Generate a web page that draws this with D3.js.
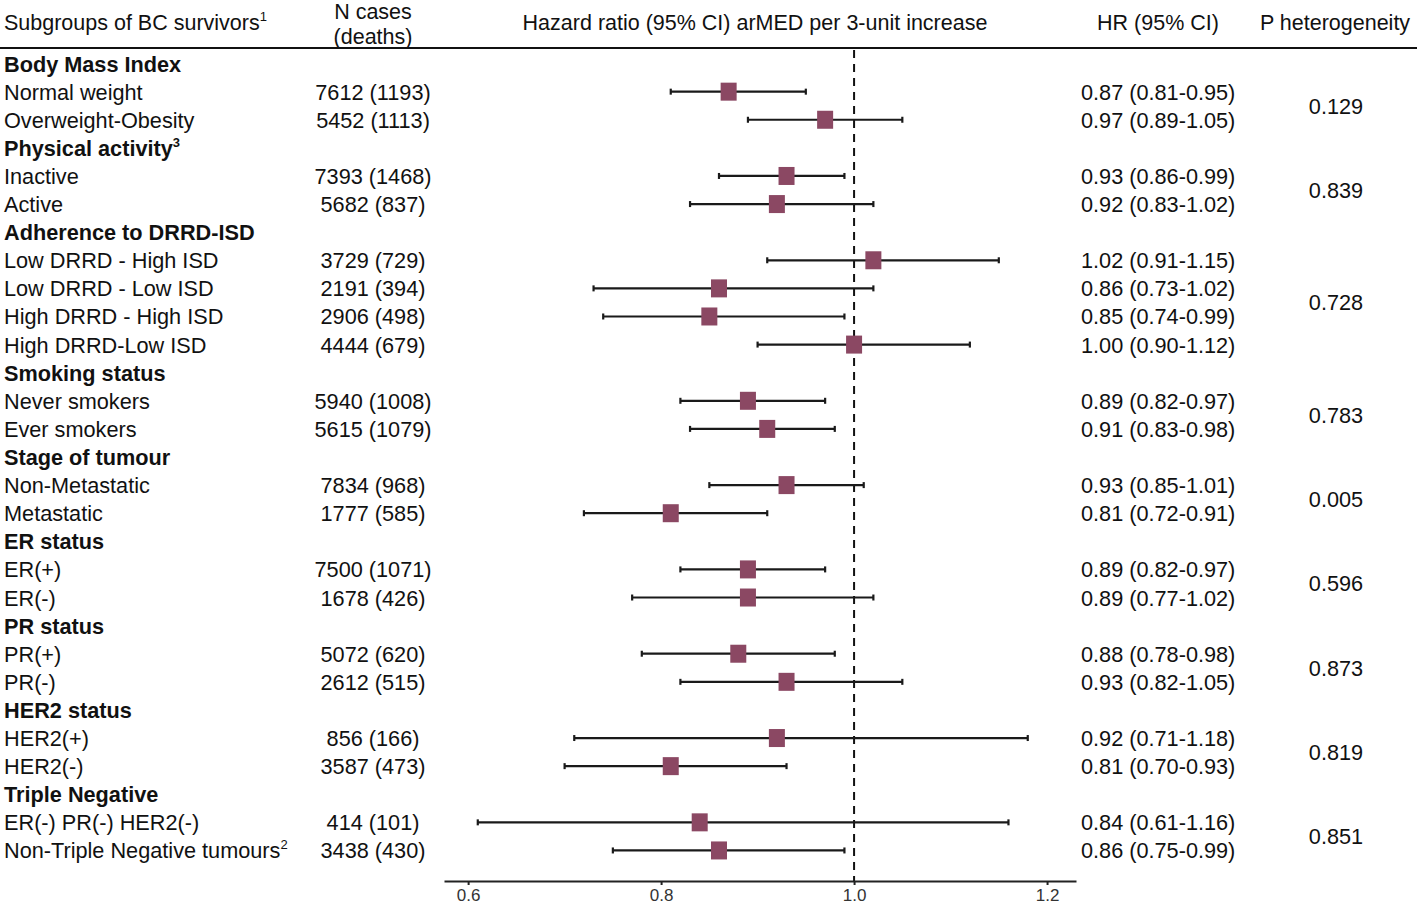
<!DOCTYPE html>
<html>
  <head>
    <script src="https://d3js.org/d3.v7.min.js"></script>
    <style>
      body { margin: 0; background: #fff; }
      text { font-family: "Liberation Sans", Arial, sans-serif; fill: #111; }
      .lbl { font-size: 21.7px; }
      .grp { font-size: 21.7px; font-weight: bold; }
      .hdr { font-size: 21.5px; }
      .axis text { font-family: "Liberation Sans Narrow", "Liberation Sans", sans-serif; font-size: 17px; fill: #333; }
      .axis path, .axis line { stroke: #222; stroke-width: 2; }
    </style>
  </head>
  <body>
    <script>
      // groups and their subgroups
      var groups = ["Body Mass Index", "Physical activity", "Adherence to DRRD-ISD", "Smoking status",
        "Stage of tumour", "ER status", "PR status", "HER2 status", "Triple Negative"];
      var groupSup = ["", "3", "", "", "", "", "", "", ""];
      var subgroups = [
        ["Normal weight", "Overweight-Obesity"],
        ["Inactive", "Active"],
        ["Low DRRD - High ISD", "Low DRRD - Low ISD", "High DRRD - High ISD", "High DRRD-Low ISD"],
        ["Never smokers", "Ever smokers"],
        ["Non-Metastatic", "Metastatic"],
        ["ER(+)", "ER(-)"],
        ["PR(+)", "PR(-)"],
        ["HER2(+)", "HER2(-)"],
        ["ER(-) PR(-) HER2(-)", "Non-Triple Negative tumours"]
      ];
      var subSup = [["", ""], ["", ""], ["", "", "", ""], ["", ""], ["", ""], ["", ""], ["", ""], ["", ""], ["", "2"]];
      var nCases = [
        ["7612 (1193)", "5452 (1113)"],
        ["7393 (1468)", "5682 (837)"],
        ["3729 (729)", "2191 (394)", "2906 (498)", "4444 (679)"],
        ["5940 (1008)", "5615 (1079)"],
        ["7834 (968)", "1777 (585)"],
        ["7500 (1071)", "1678 (426)"],
        ["5072 (620)", "2612 (515)"],
        ["856 (166)", "3587 (473)"],
        ["414 (101)", "3438 (430)"]
      ];
      var hr = [[0.87, 0.97], [0.93, 0.92], [1.02, 0.86, 0.85, 1.00], [0.89, 0.91], [0.93, 0.81],
        [0.89, 0.89], [0.88, 0.93], [0.92, 0.81], [0.84, 0.86]];
      var ciLow = [[0.81, 0.89], [0.86, 0.83], [0.91, 0.73, 0.74, 0.90], [0.82, 0.83], [0.85, 0.72],
        [0.82, 0.77], [0.78, 0.82], [0.71, 0.70], [0.61, 0.75]];
      var ciHigh = [[0.95, 1.05], [0.99, 1.02], [1.15, 1.02, 0.99, 1.12], [0.97, 0.98], [1.01, 0.91],
        [0.97, 1.02], [0.98, 1.05], [1.18, 0.93], [1.16, 0.99]];
      var pHet = ["0.129", "0.839", "0.728", "0.783", "0.005", "0.596", "0.873", "0.819", "0.851"];
      var xTicks = [0.6, 0.8, 1.0, 1.2];

      // flatten into rows
      var rows = [];
      groups.forEach(function(g, gi) {
        rows.push({ type: "group", label: g, sup: groupSup[gi], gi: gi });
        subgroups[gi].forEach(function(s, si) {
          rows.push({ type: "item", label: s, sup: subSup[gi][si], gi: gi,
            n: nCases[gi][si], hr: hr[gi][si], lo: ciLow[gi][si], hi: ciHigh[gi][si] });
        });
      });

      var W = 1417, H = 906;
      var svg = d3.select("body").append("svg").attr("width", W).attr("height", H);

      var y = d3.scaleBand().domain(d3.range(rows.length)).range([49.5, 864.5]);
      var yc = function(i) { return y(i) + y.bandwidth() / 2; };
      var x = d3.scaleLinear().domain([0.575, 1.23]).range([444, 1076]);
      var axisY = 881;

      // header
      function supText(sel, txt, sup) {
        sel.append("tspan").text(txt);
        if (sup) sel.append("tspan").attr("dy", -9).style("font-size", "13px").text(sup);
      }
      supText(svg.append("text").attr("class", "hdr").attr("x", 4).attr("y", 30), "Subgroups of BC survivors", "1");
      svg.append("text").attr("class", "hdr").attr("x", 373).attr("y", 19).attr("text-anchor", "middle").text("N cases");
      svg.append("text").attr("class", "hdr").attr("x", 373).attr("y", 44).attr("text-anchor", "middle").text("(deaths)");
      svg.append("text").attr("class", "hdr").attr("x", 755).attr("y", 30).attr("text-anchor", "middle")
        .text("Hazard ratio (95% CI) arMED per 3-unit increase");
      svg.append("text").attr("class", "hdr").attr("x", 1158).attr("y", 30).attr("text-anchor", "middle").text("HR (95% CI)");
      svg.append("text").attr("class", "hdr").attr("x", 1335).attr("y", 30).attr("text-anchor", "middle").text("P heterogeneity");
      svg.append("line").attr("x1", 0).attr("x2", W).attr("y1", 48).attr("y2", 48)
        .attr("stroke", "#111").attr("stroke-width", 2);

      // row labels
      rows.forEach(function(r, i) {
        var t = svg.append("text").attr("class", r.type == "group" ? "grp" : "lbl")
          .attr("x", 4).attr("y", yc(i) + 8);
        supText(t, r.label, r.sup);
        if (r.type == "item") {
          svg.append("text").attr("class", "lbl").attr("x", 373).attr("y", yc(i) + 8)
            .attr("text-anchor", "middle").text(r.n);
          svg.append("text").attr("class", "lbl").attr("x", 1081).attr("y", yc(i) + 8)
            .text(d3.format(".2f")(r.hr) + " (" + d3.format(".2f")(r.lo) + "-" + d3.format(".2f")(r.hi) + ")");
        }
      });

      // P heterogeneity, centred on each group's rows
      groups.forEach(function(g, gi) {
        var idx = rows.map(function(r, i) { return r.type == "item" && r.gi == gi ? i : -1; })
          .filter(function(i) { return i >= 0; });
        var mid = d3.mean(idx, function(i) { return yc(i); });
        svg.append("text").attr("class", "lbl").attr("x", 1336).attr("y", mid + 8)
          .attr("text-anchor", "middle").text(pHet[gi]);
      });

      // reference line at HR = 1
      svg.append("line").attr("x1", x(1)).attr("x2", x(1)).attr("y1", 50).attr("y2", axisY)
        .attr("stroke", "#111").attr("stroke-width", 2).attr("stroke-dasharray", "8,6");

      var items = rows.map(function(r, i) { return Object.assign({ i: i }, r); })
        .filter(function(r) { return r.type == "item"; });

      // CI whiskers
      var ci = svg.append("g").attr("stroke", "#1a1a1a").attr("stroke-width", 2.2);
      ci.selectAll(".ci").data(items).enter().append("line")
        .attr("x1", function(d) { return x(d.lo); }).attr("x2", function(d) { return x(d.hi); })
        .attr("y1", function(d) { return yc(d.i); }).attr("y2", function(d) { return yc(d.i); });
      ci.selectAll(".capl").data(items).enter().append("line")
        .attr("x1", function(d) { return x(d.lo); }).attr("x2", function(d) { return x(d.lo); })
        .attr("y1", function(d) { return yc(d.i) - 3; }).attr("y2", function(d) { return yc(d.i) + 3; });
      ci.selectAll(".caph").data(items).enter().append("line")
        .attr("x1", function(d) { return x(d.hi); }).attr("x2", function(d) { return x(d.hi); })
        .attr("y1", function(d) { return yc(d.i) - 3; }).attr("y2", function(d) { return yc(d.i) + 3; });

      // point estimates
      svg.selectAll(".pt").data(items).enter().append("rect")
        .attr("x", function(d) { return x(d.hr) - 8; })
        .attr("y", function(d) { return yc(d.i) - 9; })
        .attr("width", 16).attr("height", 18)
        .attr("fill", "#8b4863");

      // x axis
      svg.append("g").attr("class", "axis")
        .attr("transform", "translate(0," + axisY + ")")
        .call(d3.axisBottom(x).tickValues(xTicks).tickFormat(d3.format(".1f")).tickSize(4).tickSizeOuter(0).tickPadding(4));
    </script>
  </body>
</html>
